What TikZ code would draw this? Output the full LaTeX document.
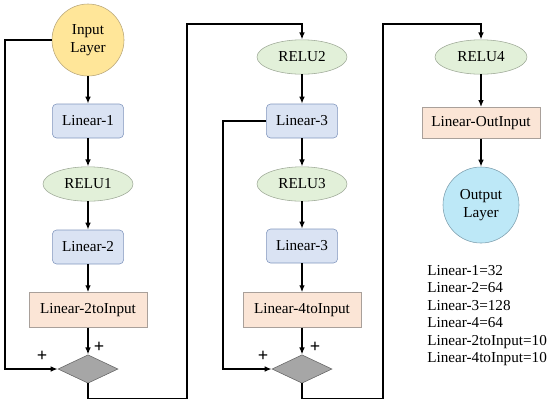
\documentclass[tikz,border=0pt]{standalone}
\usepackage{fontspec}
\setmainfont{Liberation Serif}
\usepackage{xcolor}
\usetikzlibrary{arrows.meta, shapes.geometric, positioning}
\definecolor{inyellow}{HTML}{FFE699}
\definecolor{inedge}{HTML}{B8A67A}
\definecolor{linblue}{HTML}{DAE3F3}
\definecolor{linedge}{HTML}{8297BE}
\definecolor{relugreen}{HTML}{E2F0D9}
\definecolor{reluedge}{HTML}{9FAA98}
\definecolor{projpeach}{HTML}{FBE5D6}
\definecolor{projedge}{HTML}{A9A09A}
\definecolor{outblue}{HTML}{BDE8F7}
\definecolor{outedge}{HTML}{7E9FAE}
\definecolor{sumgray}{HTML}{A6A6A6}
\tikzset{
  txt/.style={font=\rmfamily\fontsize{10.8}{12.4}\selectfont, text=black},
  layer/.style={txt, circle, draw=inedge, fill=inyellow, minimum size=1.8cm, inner sep=0pt, align=center},
  linbox/.style={txt, rectangle, rounded corners=3pt, draw=linedge, fill=linblue, minimum width=1.78cm, minimum height=0.85cm},
  relu/.style={txt, ellipse, draw=reluedge, fill=relugreen, minimum width=2.25cm, minimum height=0.86cm, inner sep=0pt},
  projbox/.style={txt, rectangle, draw=projedge, fill=projpeach, minimum width=2.95cm, minimum height=0.87cm},
  sumnode/.style={diamond, draw=gray!80!black, fill=sumgray, minimum width=1.5cm, minimum height=0.71cm, inner sep=0pt},
  plus/.style={font=\bfseries\fontsize{13}{13}\selectfont, inner sep=0pt},
  flow/.style={line width=1.3pt, -{Latex[length=5pt,width=4pt]}}
}
\begin{document}
\begin{tikzpicture}[x=0.025cm, y=-0.025cm]
\useasboundingbox (0,0) rectangle (550,404);
% first block
\node[layer] (inp) at (88,40) {Input\\Layer};
\node[linbox] (lin1) at (88,121) {Linear-1};
\node[relu] (relu1) at (88,184) {RELU1};
\node[linbox] (lin2) at (88,247) {Linear-2};
\node[projbox] (proj2) at (88,310) {Linear-2toInput};
\node[sumnode] (sum1) at (88,369) {};
% second block
\node[relu] (relu2) at (302,57) {RELU2};
\node[linbox] (lin3a) at (302,121) {Linear-3};
\node[relu] (relu3) at (302,184) {RELU3};
\node[linbox] (lin3b) at (302,246) {Linear-3};
\node[projbox] (proj4) at (302,310) {Linear-4toInput};
\node[sumnode] (sum2) at (302,369) {};
% output block
\node[relu, minimum width=2.3cm] (relu4) at (481,57) {RELU4};
\node[projbox, minimum height=0.78cm] (linout) at (481,123) {Linear-OutInput};
\node[layer, draw=outedge, fill=outblue, minimum size=1.9cm] (outp) at (481,205) {Output\\Layer};
\foreach \a/\b in {inp/lin1, lin1/relu1, relu1/lin2, lin2/proj2, proj2/sum1,
    relu2/lin3a, lin3a/relu3, relu3/lin3b, lin3b/proj4, proj4/sum2,
    relu4/linout, linout/outp}
  \draw[flow] (\a) -- (\b);
% skip connections
\draw[flow] (inp.west) -- ++(-47,0) |- (sum1.west);
\draw[flow] (lin3a.west) -- ++(-43,0) |- (sum2.west);
\draw[flow] (sum1.south) -- ++(0,15) -| (187,24) -| (relu2.north);
\draw[flow] (sum2.south) -- ++(0,15) -| (383,24) -| (relu4.north);
\node[plus] (pa1) at (42,356) {+};
\node[plus] (pa2) at (99,347) {+};
\node[plus] (pb1) at (263,356) {+};
\node[plus] (pb2) at (315,347) {+};
% sizes
\node[txt, anchor=north west, align=left, inner sep=0pt] (sizes) at (427,265)
  {Linear-1=32\\Linear-2=64\\Linear-3=128\\Linear-4=64\\Linear-2toInput=10\\Linear-4toInput=10};
\end{tikzpicture}
\end{document}
